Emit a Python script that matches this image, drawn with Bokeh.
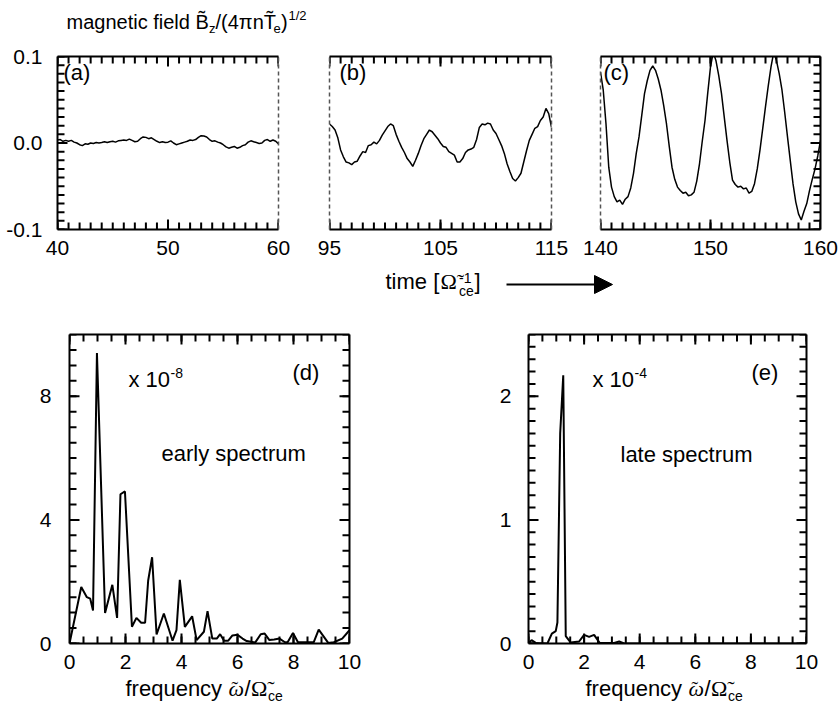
import numpy as np
from bokeh.plotting import figure
from bokeh.models import (Range1d, LinearAxis, FixedTicker, NumeralTickFormatter,
                          Label, Arrow, NormalHead)
from bokeh.layouts import column, row
from bokeh.embed import file_html
from bokeh.resources import INLINE

SANS = "Liberation Sans"
SERIF = "Liberation Serif"

# ---------------- data ----------------
# (a) early magnetic field, t = 40 .. 60, step 0.25  (units of 1e-3)
t_a = 40 + 0.25 * np.arange(81)
bz_a = np.array([3.5, 4, 2, 3, 2, 3, 1, 0, -2, -3, -1, -1.5, 0, -0.5, 0.5, 0,
                 0.5, 1.5, 0.5, 1.5, 2, 1, 2.5, 3, 3.5, 3, 4.5, 3, 1.5, 2, 5, 7,
                 6.5, 5, 6, 4, 2, 0.5, 1.5, 0.5, 1, 2.5, 0, -2, -1, 0, 1, 2,
                 3.5, 3, 4, 6.5, 8.5, 8, 7, 4, 2, 2.5, 1, 0, -2, -4.5, -6, -5,
                 -4, -6, -5, -3, -2, 1, 2.5, 1.5, 0.5, -0.5, 0, 3, 4, 2, 3.5, 2, -1]) * 1e-3

# (b) t = 95 .. 115, step 0.25
t_b = 95 + 0.25 * np.arange(81)
bz_b = np.array([22, 19, 15, 6, -8, -16, -22, -23, -25, -22, -21, -15, -10, -11, -3, -2,
                 1, -1, 3, 9, 14, 19, 22, 20, 10, 2, -5, -11, -18, -22, -27, -20,
                 -12, -3, 5, 10, 15, 13, 9, 5, 0, -4, -5, -10, -12, -14, -22, -22,
                 -18, -11, -8, -7, -5, 4, 18, 22, 21, 23, 22, 15, 11, 4, -3, -12,
                 -24, -33, -41, -44, -40, -35, -22, -9, 3, 10, 17, 19, 26, 30, 40, 34, 18]) * 1e-3

# (c) t = 140 .. 160, step 0.25
t_c = 140 + 0.25 * np.arange(81)
bz_c = np.array([82, 61, 22, -28, -51, -62, -68, -66, -71, -65, -62, -52, -35, -12, 7, 32,
                 57, 72, 84, 89, 84, 74, 61, 43, 22, -4, -28, -42, -51, -55, -58, -57,
                 -61, -60, -57, -44, -24, 2, 26, 58, 88, 105, 95, 78, 57, 30, 3, -22,
                 -43, -48, -51, -50, -53, -52, -58, -56, -47, -30, -8, 17, 42, 66, 88, 105,
                 95, 80, 61, 35, 7, -20, -47, -68, -82, -89, -79, -70, -55, -42, -30, -15, 3]) * 1e-3

# (d) early spectrum (x 1e-8)
freq_d = [0, 0.42, 0.62, 0.74, 0.84, 0.98, 1.27, 1.53, 1.70, 1.82, 1.98, 2.23, 2.39, 2.56,
          2.70, 2.81, 2.95, 3.11, 3.37, 3.68, 3.82, 3.94, 4.12, 4.38, 4.54, 4.80, 4.93, 5.10,
          5.26, 5.38, 5.52, 5.67, 5.82, 6.00, 6.18, 6.33, 6.63, 6.83, 6.97, 7.14, 7.31, 7.50,
          7.68, 7.79, 7.98, 8.16, 8.48, 8.72, 8.90, 9.24, 9.44, 9.74, 10.0]
spec_d = [0, 1.83, 1.5, 1.45, 1.07, 9.4, 0.99, 1.9, 0.83, 4.83, 4.92, 0.54, 0.83, 0.67,
          0.67, 2.04, 2.79, 0.29, 0.97, 0.09, 0.43, 2.06, 0.54, 0.88, 0.11, 0.38, 1.05, 0.16,
          0.16, 0.30, 0.09, 0.09, 0.26, 0.28, 0.16, 0.08, 0.03, 0.30, 0.32, 0.11, 0.13, 0.16,
          0.05, 0.04, 0.34, 0.04, 0.04, 0.04, 0.45, 0.02, 0.04, 0.16, 0.43]

# (e) late spectrum (x 1e-4)
freq_e = [0, 0.11, 0.26, 0.68, 0.84, 0.98, 1.04, 1.14, 1.25, 1.34, 1.52, 1.82, 2.0, 2.18,
          2.36, 2.56, 3.08, 3.26, 3.44, 10.0]
spec_e = [0, 0.027, 0.005, 0, 0.08, 0.10, 0.17, 1.70, 2.17, 0.06, 0.008, 0.016, 0.07, 0.054,
          0.07, 0.005, 0.005, 0.016, 0, 0]

# ---------------- ticks ----------------
xt_a = [40, 50, 60]
xt_b = [95, 105, 115]
xt_c = [140, 150, 160]
xt_a_minor = np.arange(40, 61, 1)
xt_b_minor = np.arange(95, 116, 1)
xt_c_minor = np.arange(140, 161, 1)
yt_top = [-0.1, 0.0, 0.1]
yt_top_minor = np.round(np.arange(-0.1, 0.1001, 0.01), 3)
xt_spec = [0, 2, 4, 6, 8, 10]
xt_spec_minor = np.arange(0, 10.01, 0.5)
yt_d = [0, 4, 8]
yt_d_minor = np.arange(0, 10.01, 0.5)
yt_e = [0, 1, 2]
yt_e_minor = np.round(np.arange(0, 2.501, 0.1), 2)

DASH = "4 3"
TICK_FS = "21px"
MAJ, MIN = 10, 7     # inward tick lengths (px)
TICK_W = 2


# ---------------- helpers ----------------
def make_fig(w, h, bl, br, bt, bb, xr, yr):
    p = figure(width=w, height=h, x_range=Range1d(*xr), y_range=Range1d(*yr),
               x_axis_type=None, y_axis_type=None, output_backend="svg",
               toolbar_location=None, min_border_left=bl, min_border_right=br,
               min_border_top=bt, min_border_bottom=bb)
    p.outline_line_color = None
    p.background_fill_color = "white"
    p.border_fill_color = "white"
    return p


def add_axis(p, side, ticks=None, dashed=False, formatter=None, standoff=5):
    ax = LinearAxis(ticker=FixedTicker(ticks=list(ticks) if ticks else [], minor_ticks=[]))
    if dashed:
        ax.axis_line_color = "#555555"
        ax.axis_line_width = 1.5
        ax.axis_line_dash = DASH
    else:
        ax.axis_line_color = "black"
        ax.axis_line_width = 2
    ax.major_tick_line_color = None
    ax.minor_tick_line_color = None
    ax.major_label_text_font = SANS
    ax.major_label_text_font_size = TICK_FS
    ax.major_label_text_color = "black"
    ax.major_label_standoff = standoff
    if formatter is not None:
        ax.formatter = formatter
    p.add_layout(ax, side)


def tick_marks(p, side, major, minor, fw, fh):
    """inward ticks drawn as short segments from the frame edge into the plot"""
    xr, yr = p.x_range, p.y_range
    ppx = fw / (xr.end - xr.start)
    ppy = fh / (yr.end - yr.start)
    for pos, ln in ((minor, MIN), (major, MAJ)):
        pos = [float(v) for v in pos]
        n = len(pos)
        if side in ("below", "above"):
            sgn = 1 if side == "below" else -1
            e = yr.start if side == "below" else yr.end
            p.segment(x0=pos, y0=[e] * n, x1=pos,
                      y1=[e + sgn * ln / ppy] * n, line_color="black", line_width=TICK_W)
        else:
            sgn = 1 if side == "left" else -1
            e = xr.start if side == "left" else xr.end
            p.segment(x0=[e] * n, y0=pos, x1=[e + sgn * ln / ppx] * n,
                      y1=pos, line_color="black", line_width=TICK_W)


def ident(px, py):
    return px, py


def lab(p, cv, px, base, text, fs=20, font=SANS, style="normal"):
    """place text so that its alphabetic baseline sits at page-y = base"""
    x, y = cv(px, base - 0.35 * fs)
    p.add_layout(Label(x=x, y=y, text=text, text_font=font, text_font_size=f"{fs}px",
                       text_font_style=style, text_color="black",
                       text_align="left", text_baseline="middle"))


def conv(frame_left, frame_top, fw, fh, xr, yr):
    def f(px, py):
        x = xr[0] + (px - frame_left) / fw * (xr[1] - xr[0])
        y = yr[0] + (frame_top + fh - py) / fh * (yr[1] - yr[0])
        return x, y
    return f


W = 838

# ---------------- header (title) ----------------
header = make_fig(W, 40, 0, 0, 0, 0, (0, W), (40, 0))
lab(header, ident, 66, 28, "magnetic field B\u0303", 20)
lab(header, ident, 208.5, 33, "z", 13)
lab(header, ident, 215, 28, "/(4\u03c0nT\u0303", 20)
lab(header, ident, 273, 33, "e", 13)
lab(header, ident, 280.5, 28, ")", 20)
lab(header, ident, 288, 20, "1/2", 13)

# ---------------- top row ----------------
YR = (-0.1, 0.1)
tick_fmt = NumeralTickFormatter(format="0.0")

pa = make_fig(305, 222, 57, 27, 16, 33, (40, 60), YR)
add_axis(pa, "below", xt_a)
add_axis(pa, "above")
add_axis(pa, "left", yt_top, formatter=tick_fmt, standoff=9)
add_axis(pa, "right", dashed=True)
tick_marks(pa, "below", xt_a, xt_a_minor, 221, 173)
tick_marks(pa, "above", xt_a, xt_a_minor, 221, 173)
tick_marks(pa, "left", yt_top, yt_top_minor, 221, 173)
pa.line(t_a, bz_a, line_color="black", line_width=1.5)
ca = conv(57, 56, 221, 173, (40, 60), YR)
lab(pa, ca, 63, 80, "(a)", 22)

pb = make_fig(273, 222, 24, 27, 16, 33, (95, 115), YR)
add_axis(pb, "below", xt_b)
add_axis(pb, "above")
add_axis(pb, "left", dashed=True)
add_axis(pb, "right", dashed=True)
tick_marks(pb, "below", xt_b, xt_b_minor, 222, 173)
tick_marks(pb, "above", xt_b, xt_b_minor, 222, 173)
pb.line(t_b, bz_b, line_color="black", line_width=1.5)
cb = conv(329, 56, 222, 173, (95, 115), YR)
lab(pb, cb, 339, 80, "(b)", 22)

pc = make_fig(260, 222, 22, 18, 16, 33, (140, 160), YR)
add_axis(pc, "below", xt_c)
add_axis(pc, "above")
add_axis(pc, "left", dashed=True)
add_axis(pc, "right")
tick_marks(pc, "below", xt_c, xt_c_minor, 220, 173)
tick_marks(pc, "above", xt_c, xt_c_minor, 220, 173)
tick_marks(pc, "right", yt_top, yt_top_minor, 220, 173)
pc.line(t_c, bz_c, line_color="black", line_width=1.5)
cc = conv(600, 56, 220, 173, (140, 160), YR)
lab(pc, cc, 603, 80, "(c)", 22)

# ---------------- time strip ----------------
strip = make_fig(W, 58, 0, 0, 0, 0, (0, W), (320, 262))
lab(strip, ident, 385, 289, "time [", 22)
lab(strip, ident, 440, 289, "\u03a9\u0303", 22, SERIF)
lab(strip, ident, 458.5, 282, "-1", 14)
lab(strip, ident, 458.5, 295, "ce", 14)
lab(strip, ident, 474, 289, "]", 22)
strip.add_layout(Arrow(end=NormalHead(size=18, fill_color="black", line_color="black"),
                       x_start=506, y_start=284, x_end=612, y_end=284,
                       line_color="black", line_width=2))

# ---------------- bottom row ----------------
pd_ = make_fig(430, 357, 69, 81, 14, 34, (0, 10), (0, 10))
add_axis(pd_, "below", xt_spec)
add_axis(pd_, "above")
add_axis(pd_, "left", yt_d, standoff=12)
add_axis(pd_, "right")
for side in ("below", "above"):
    tick_marks(pd_, side, xt_spec, xt_spec_minor, 280, 309)
for side in ("left", "right"):
    tick_marks(pd_, side, yt_d, yt_d_minor, 280, 309)
pd_.line(freq_d, spec_d, line_color="black", line_width=2)
cd = conv(69, 334, 280, 309, (0, 10), (0, 10))
lab(pd_, cd, 128, 387, "x 10", 22)
lab(pd_, cd, 170, 377, "-8", 14)
lab(pd_, cd, 292, 380, "(d)", 22)
lab(pd_, cd, 161, 461, "early spectrum", 22)

pe = make_fig(408, 357, 98, 32, 14, 34, (0, 10), (0, 2.5))
add_axis(pe, "below", xt_spec)
add_axis(pe, "above")
add_axis(pe, "left", yt_e, standoff=11)
add_axis(pe, "right")
for side in ("below", "above"):
    tick_marks(pe, side, xt_spec, xt_spec_minor, 278, 309)
for side in ("left", "right"):
    tick_marks(pe, side, yt_e, yt_e_minor, 278, 309)
pe.line(freq_e, spec_e, line_color="black", line_width=2)
ce = conv(528, 334, 278, 309, (0, 10), (0, 2.5))
lab(pe, ce, 592, 387, "x 10", 22)
lab(pe, ce, 634, 377, "-4", 14)
lab(pe, ce, 751, 380, "(e)", 22)
lab(pe, ce, 620, 462, "late spectrum", 22)

# ---------------- bottom strip (axis labels) ----------------
bstrip = make_fig(W, 28, 0, 0, 0, 0, (0, W), (705, 677))
for x0 in (125, 585):
    lab(bstrip, ident, x0, 696, "frequency ", 22)
    lab(bstrip, ident, x0 + 103, 696, "\u03c9", 22, SERIF, "italic")
    lab(bstrip, ident, x0 + 106, 695, "\u02dc", 20, SERIF)
    lab(bstrip, ident, x0 + 119, 696, "/", 22)
    lab(bstrip, ident, x0 + 125.5, 696, "\u03a9\u0303", 22, SERIF)
    lab(bstrip, ident, x0 + 142.5, 700, "ce", 14)

layout = column(header, row(pa, pb, pc), strip, row(pd_, pe), bstrip)

open("out.html", "w").write(file_html(layout, INLINE))
